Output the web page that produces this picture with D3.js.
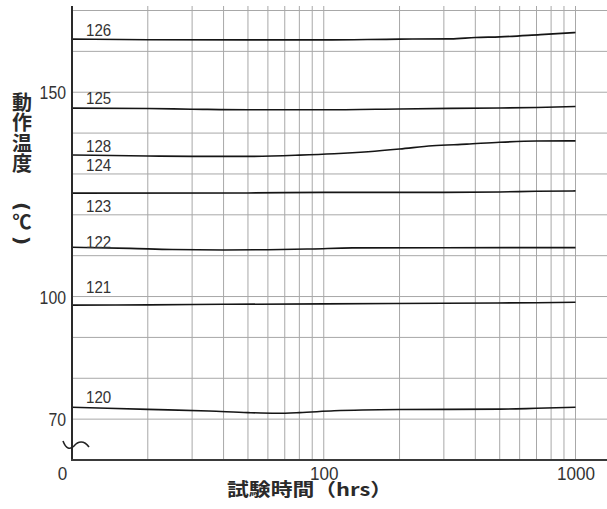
<!DOCTYPE html>
<html>
<head>
<meta charset="utf-8">
<script src="https://cdn.jsdelivr.net/npm/d3@7"></script>
<style>
  html, body { margin: 0; padding: 0; background: #fff; }
  svg { display: block; }
  .num { font-family: "Liberation Sans", Arial, sans-serif; fill: #333; }
  .cjk { font-family: "Noto Sans CJK JP", "Noto Sans CJK SC", sans-serif; fill: #2a2a2a; }
</style>
</head>
<body>
<svg id="chart" width="607" height="509"></svg>
<script>
// ---- data ----
const xTickValues = [10, 100, 1000];
const xTickLabels = ["0", "100", "1000"];
const yTickValues = [150, 100, 70];
const xGridValues = [20, 30, 40, 50, 60, 70, 80, 90, 100, 200, 300, 400, 500, 600, 700, 800, 900, 1000];
const yGridValues = [70, 80, 90, 100, 110, 120, 130, 140, 150, 160, 170];

const seriesNames = ["126", "125", "128", "124", "122", "121", "120"];
const s126 = [[10,163.0],[20,162.85],[50,162.8],[100,162.8],[200,163.0],[320,163.05],[400,163.4],[500,163.55],[725,164.1],[1000,164.6]];
const s125 = [[10,146.1],[20,146.0],[30,145.85],[50,145.7],[100,145.7],[200,145.9],[320,146.05],[500,146.15],[700,146.25],[1000,146.5]];
const s128 = [[10,134.65],[20,134.4],[30,134.3],[50,134.3],[80,134.6],[110,134.95],[150,135.45],[200,136.1],[270,136.9],[370,137.3],[500,137.75],[700,138.05],[1000,138.1]];
const s124 = [[10,125.3],[50,125.35],[100,125.5],[300,125.5],[500,125.6],[700,125.75],[1000,125.85]];
const s122 = [[10,112.05],[17,111.8],[25,111.5],[40,111.4],[60,111.45],[90,111.65],[130,111.9],[300,111.95],[1000,111.97]];
const s121 = [[10,97.9],[20,97.95],[40,98.1],[100,98.2],[300,98.35],[700,98.5],[1000,98.6]];
const s120 = [[10,72.9],[20,72.4],[35,72.0],[50,71.6],[65,71.45],[80,71.6],[110,72.05],[200,72.35],[500,72.45],[700,72.65],[1000,72.9]];
const seriesData = [s126, s125, s128, s124, s122, s121, s120];

const labelNames = ["126", "125", "128", "124", "123", "122", "121", "120"];
const labelValues = [163.77, 147.13, 135.45, 130.73, 120.57, 112.0, 100.75, 73.83];

const yTitleMain = "動作温度";
const yTitleUnit = "℃";
const xTitle = "試験時間（hrs）";

// ---- layout ----
const svg = d3.select("#chart");
const x = d3.scaleLog().domain([10, 1000]).range([72, 575.5]);
const y = d3.scaleLinear().domain([60, 170]).range([460, 10.5]);
const plotTop = 6, plotRight = 607;

// grid
svg.append("g").selectAll("line").data(yGridValues).join("line")
  .attr("x1", x(10)).attr("x2", plotRight)
  .attr("y1", d => y(d)).attr("y2", d => y(d))
  .attr("stroke", "#a8a8a8").attr("stroke-width", 1);
svg.append("g").selectAll("line").data(xGridValues).join("line")
  .attr("x1", d => x(d)).attr("x2", d => x(d))
  .attr("y1", plotTop).attr("y2", y(60))
  .attr("stroke", "#a8a8a8").attr("stroke-width", 1);

// series
const line = d3.line().x(d => x(d[0])).y(d => y(d[1])).curve(d3.curveMonotoneX);
svg.append("g").selectAll("path").data(seriesData).join("path")
  .attr("d", line).attr("fill", "none")
  .attr("stroke", "#151515").attr("stroke-width", 1.6);

// series labels
svg.append("g").selectAll("text").data(labelNames).join("text")
  .attr("class", "num")
  .attr("x", 86).attr("y", (d, i) => y(labelValues[i]))
  .attr("font-size", 17)
  .attr("textLength", d => d.length * 8.4).attr("lengthAdjust", "spacingAndGlyphs")
  .text(d => d);

// axes lines
svg.append("line").attr("x1", x(10)).attr("x2", x(10)).attr("y1", plotTop).attr("y2", y(60) + 1)
  .attr("stroke", "#2a2a2a").attr("stroke-width", 2);
svg.append("line").attr("x1", x(10) - 1).attr("x2", plotRight).attr("y1", y(60)).attr("y2", y(60))
  .attr("stroke", "#3a3a3a").attr("stroke-width", 2);

// break mark
svg.append("path")
  .attr("d", "M63,441 C66,449 70,450 74,446 C78,441 84,440 89,447")
  .attr("fill", "none").attr("stroke", "#222").attr("stroke-width", 1.6);

// y tick labels
const yAxis = d3.axisLeft(y).tickValues(yTickValues).tickSize(0).tickPadding(6);
const gy = svg.append("g").attr("transform", `translate(${x(10)},0)`).call(yAxis);
gy.select(".domain").remove();
gy.selectAll("text").attr("class", "num").attr("font-size", 18).attr("fill", "#333")
  .attr("dy", "0.36em")
  .attr("textLength", d => String(d).length * 8.8).attr("lengthAdjust", "spacingAndGlyphs");

// x tick labels
const xAxis = d3.axisBottom(x).tickValues(xTickValues).tickSize(0).tickPadding(7)
  .tickFormat((d, i) => xTickLabels[i]);
const gx = svg.append("g").attr("transform", `translate(0,${y(60)})`).call(xAxis);
gx.select(".domain").remove();
gx.selectAll("text").attr("class", "num").attr("font-size", 18).attr("fill", "#333")
  .attr("dy", "0.71em")
  .attr("textLength", (d, i) => xTickLabels[i].length * 9.5).attr("lengthAdjust", "spacingAndGlyphs");
gx.selectAll(".tick").filter(d => d === 10).select("text").attr("x", -10);

// x title
svg.append("text").attr("class", "cjk")
  .attr("x", 227).attr("y", 496)
  .attr("font-size", 18).attr("font-weight", 700)
  .attr("textLength", 165).attr("lengthAdjust", "spacingAndGlyphs")
  .text(xTitle);

// y title (vertical)
svg.append("text").attr("class", "cjk")
  .attr("x", 22).attr("y", 92)
  .attr("font-size", 20).attr("font-weight", 700)
  .style("writing-mode", "vertical-rl")
  .style("letter-spacing", "0.6px")
  .text(yTitleMain);
svg.append("text").attr("class", "cjk")
  .attr("font-size", 20).attr("font-weight", 700).attr("text-anchor", "middle")
  .attr("dominant-baseline", "central")
  .attr("transform", "translate(22,206.5) rotate(90)")
  .style("font-family", "DejaVu Sans, sans-serif").text("(");
svg.append("text").attr("class", "cjk")
  .attr("x", 22).attr("y", 212)
  .attr("font-size", 19).attr("font-weight", 700)
  .style("writing-mode", "vertical-rl")
  .text(yTitleUnit);
svg.append("text").attr("class", "cjk")
  .attr("font-size", 20).attr("font-weight", 700).attr("text-anchor", "middle")
  .attr("dominant-baseline", "central")
  .attr("transform", "translate(22,240.5) rotate(90)")
  .style("font-family", "DejaVu Sans, sans-serif").text(")");
</script>
</body>
</html>
